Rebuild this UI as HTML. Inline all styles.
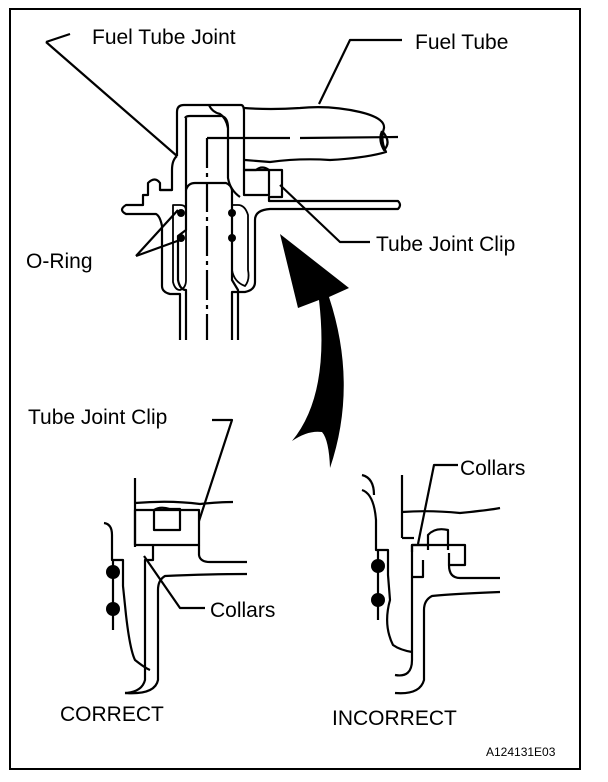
<!DOCTYPE html>
<html><head><style>
body{margin:0;background:#fff;}
svg{display:block;}
text{font-family:"Liberation Sans",sans-serif;fill:#000;}
</style></head><body>
<svg width="608" height="782" viewBox="0 0 608 782" xmlns="http://www.w3.org/2000/svg">
<rect x="10" y="9" width="570" height="760" fill="none" stroke="#000" stroke-width="2"/>
<g fill="none" stroke="#000" stroke-width="2.2" stroke-linejoin="round">
<polyline points="46,42 70,34"/>
<line x1="46" y1="42" x2="177" y2="156"/>
<polyline points="402,40 350,40 319,104"/>
<polyline points="370,242 340,242 280,185"/>
<polyline points="136,256 178,210"/>
<polyline points="136,256 180,240"/>
<path d="M177,156 V112 Q177,105 184,105 H241 Q244,105 244,112 V170 H282 V197 H269 V201 H398 Q402,205 398,209 H270 Q255,210 255,220 V282 Q255,290 245,292 H232 V340"/>
<path d="M177,156 Q172,160 172,170 V190 H160 V183 Q155,176 148,183 V195 H143 V205 H126 Q118,210 126,214 H156 Q160,216 162,226 V286 Q162,292 170,294 H180 V340"/>
<path d="M244,108 Q270,110 300,108 Q330,105 360,112 Q385,118 384,128 Q380,140 386,152 Q365,158 330,160 Q300,158 270,162 L245,160"/>
<path d="M382,131 Q378,140 384,150 Q392,142 382,131"/>
<path d="M185,118 Q186,116 190,116 H222 Q228,118 228,128 V178 Q230,190 240,197"/>
<path d="M209,105 Q212,112 220,114 Q226,118 228,128"/>
<path d="M186,118 V190 Q188,183 195,183 H226 Q231,185 232,190 V280 L238,290 V340"/>
<path d="M186,190 V230 L178,236 V280 Q180,290 186,290 V340"/>
<line x1="207" y1="138" x2="207" y2="340" stroke-dasharray="30,5,4,5"/>
<polyline points="207,138 290,138"/>
<line x1="300" y1="138" x2="398" y2="137"/>
<path d="M173,205 V282 Q175,290 180,290 Q186,288 186,280 V210 Q186,205 180,205 Z" stroke-width="1.8"/>
<path d="M232,205 V270 Q234,282 245,286 Q250,280 248,270 V215 Q245,205 238,205 Z" stroke-width="1.8"/>
<path d="M244,170 V195 H269 V170 Q262,165 256,170 Z"/>
<line x1="160" y1="190" x2="172" y2="190"/>
</g>
<g fill="#000">
<circle cx="181" cy="213" r="4"/><circle cx="181" cy="238" r="4"/>
<circle cx="232" cy="213" r="4"/><circle cx="232" cy="238" r="4"/>
<path d="M280,234 L349,288 L329,297 Q358,385 330,468 Q329,440 322,432 Q308,430 292,441 Q330,395 319,300 L298,308 Z"/>
</g>
<g fill="none" stroke="#000" stroke-width="2.2" stroke-linejoin="round">
<polyline points="212,420 232,420 199,521"/>
<line x1="135" y1="478" x2="135" y2="547"/>
<path d="M135,503 Q170,500 200,504 Q220,502 233,502"/>
<rect x="135" y="510" width="64" height="35"/>
<path d="M154,530 V510 Q160,506 170,509 H180 V530 Z"/>
<path d="M199,545 V555 Q200,562 210,562 H247"/>
<path d="M153,545 V560 H145 V680 Q142,692 125,693"/>
<path d="M247,574 Q210,574 165,576 Q158,580 158,590 V680 Q155,695 125,693"/>
<polyline points="144,556 180,608 205,608"/>
<path d="M104,523 Q112,524 112,535 V560 H123 V586 L126,615 Q130,650 135,660 Q145,668 150,670"/>
<line x1="113" y1="560" x2="113" y2="630"/>
<polyline points="458,465 434,465 418,544"/>
<line x1="402" y1="475" x2="402" y2="538"/>
<path d="M402,512 Q430,510 460,513 Q490,510 500,508"/>
<line x1="402" y1="538" x2="414" y2="538"/>
<path d="M412,552 V545 H465 V565 H449 V553"/>
<path d="M428,550 V535 Q435,527 448,530 L448,550"/>
<path d="M428,545 H412 V577 H423 V560"/>
<path d="M449,565 Q449,578 460,578 H500"/>
<path d="M500,592 Q450,594 432,596 Q424,600 424,610 V680 Q420,695 395,693"/>
<path d="M412,577 V660 Q412,678 395,675"/>
<path d="M362,475 Q374,478 374,495"/>
<path d="M362,490 Q374,494 376,520 V550 H388 V575 L390,600 Q383,625 393,645 Q400,650 412,652"/>
<line x1="378" y1="550" x2="378" y2="620"/>
</g>
<g fill="#000">
<circle cx="113" cy="572" r="7"/><circle cx="113" cy="609" r="7"/>
<circle cx="378" cy="566" r="7"/><circle cx="378" cy="600" r="7"/>
</g>
<g font-size="21">
<text x="92" y="44">Fuel Tube Joint</text>
<text x="415" y="49">Fuel Tube</text>
<text x="376" y="251">Tube Joint Clip</text>
<text x="26" y="268">O-Ring</text>
<text x="28" y="424">Tube Joint Clip</text>
<text x="460" y="475">Collars</text>
<text x="210" y="617">Collars</text>
<text x="60" y="721">CORRECT</text>
<text x="332" y="725">INCORRECT</text>
</g>
<text x="486" y="756" font-size="12">A124131E03</text>
</svg>
</body></html>
